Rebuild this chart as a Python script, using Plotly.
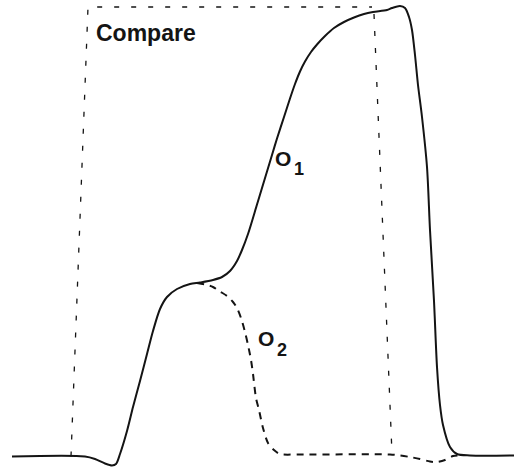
import plotly.graph_objects as go

# Time axis (arbitrary units) and response amplitude (baseline = 0)
o1_t = [12, 85, 95, 105, 112, 116, 120, 127, 133, 140, 147, 153, 160, 167, 177, 190,
        200, 213, 222, 230, 237, 242, 248, 257, 262, 267, 272, 277, 284, 290, 295, 300,
        305, 311, 317, 325, 334, 344, 354, 364, 373, 387, 392, 400, 405, 409, 412, 415,
        418, 422, 427, 430, 434, 437, 440, 443, 450, 457, 470, 514]
o1_amp = [0, 0, -2.5, -7, -9, -7.5, 2.5, 25.5, 49.5, 75.5, 102.5, 125.5, 147.5, 159.5,
          167.5, 172.5, 174, 176.5, 179.5, 185.5, 195.5, 206.5, 222.5, 252, 268.5, 285,
          301.5, 318, 339.5, 358, 372.5, 385, 395, 404.5, 412, 420.5, 428.5, 434.5, 439,
          442.5, 444.5, 446.5, 448.5, 450.5, 448.5, 439.5, 426.5, 401.5, 371.5, 339.5,
          289.5, 226.5, 155.5, 89.5, 51.5, 31.5, 9.5, 2.5, 1, 1]

o2_t = [197, 205, 213, 220, 227, 233, 237, 241, 245, 248, 251, 253, 256, 259, 263, 268,
        274, 280, 300, 390, 400, 410, 420, 430, 437, 445, 453, 460]
o2_amp = [173.5, 172, 169.5, 165, 160.5, 154.5, 148.5, 138.5, 124.5, 111.5, 96.5, 82.5,
          58.5, 46.5, 28.5, 13.5, 6.5, 2.5, 2, 2, 1, -0.5, -2.5, -5, -5.5, -3.5, 0.5, 1]

# Compare pulse outline (gap where it passes behind the O1 peak)
cmp_t = [71, 88, 372, None, 374, 392]
cmp_amp = [0, 449.5, 449.5, None, 442.5, 2.5]

# Label text and positions
labels = ["Compare", "O", "1", "O", "2"]
label_t = [146, 283, 298.5, 266, 282]
label_amp = [424, 298, 288, 118.5, 106.5]
label_size = [23, 21, 18, 21, 18]

INK = "#141414"

fig = go.Figure()
fig.add_trace(go.Scatter(x=cmp_t, y=cmp_amp, mode="lines", connectgaps=False,
                         line=dict(color=INK, width=1.3, dash="5px,12px"),
                         hoverinfo="skip"))
fig.add_trace(go.Scatter(x=o2_t, y=o2_amp, mode="lines",
                         line=dict(color=INK, width=2, dash="7px,6px",
                                   shape="spline", smoothing=0.8),
                         hoverinfo="skip"))
fig.add_trace(go.Scatter(x=o1_t, y=o1_amp, mode="lines",
                         line=dict(color=INK, width=2, shape="spline", smoothing=0.8),
                         hoverinfo="skip"))

for txt, x, y, s in zip(labels, label_t, label_amp, label_size):
    fig.add_annotation(x=x, y=y, text="<b>" + txt + "</b>", showarrow=False,
                       xanchor="center", yanchor="middle",
                       font=dict(family="Liberation Sans", size=s, color=INK))

fig.update_layout(
    width=514, height=467,
    margin=dict(l=0, r=0, t=0, b=0),
    paper_bgcolor="white", plot_bgcolor="white",
    showlegend=False,
    xaxis=dict(range=[0, 514], visible=False, fixedrange=True),
    yaxis=dict(range=[-10.5, 456.5], visible=False, fixedrange=True),
)

fig.write_html("out.html", config={"displayModeBar": False})
